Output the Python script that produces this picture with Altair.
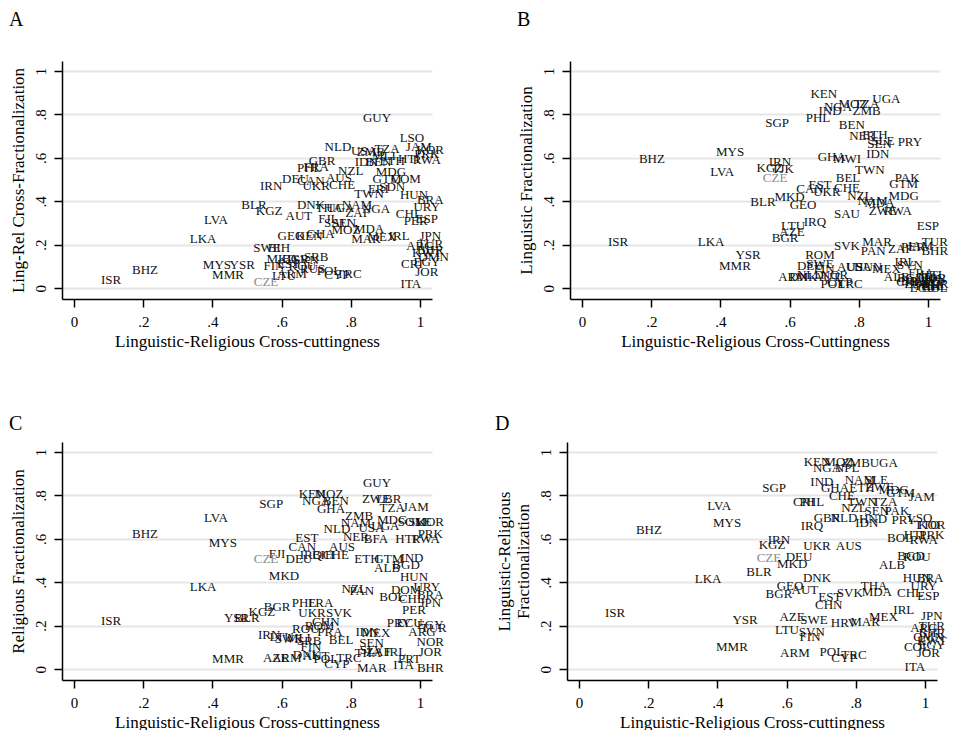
import altair as alt
import pandas as pd

FONT = "Liberation Serif"

# ---------------- Panel A: Ling-Rel Cross-Fractionalization ----------------
a_codes = ["ISR","BHZ","LVA","LKA","MYS","YSR","MMR","BLR","KGZ","AUT","IRN","DEU","CAN","UKR","CHE",
           "GBR","PHL","FRA","NZL","AUS","NLD","GUY","USA","TZA","LSO","JAM","KOR","PRK","ZMB","MLI",
           "IDN","BEN","ETH","HTI","RWA","MDG","GTM","COM","TWN","ERI","SDN","HUN","BRA","URY","CHL",
           "PER","ESP","DNK","THA","UGA","NAM","NGA","ZAF","FJI","SAU","SEN","MOZ","MDA","MAR","MEX",
           "IRL","JPN","ARG","TUR","BHR","KWT","OMN","GEO","KEN","GHA","SWE","BIH","MKD","BGR","SRB",
           "SVN","FIN","EST","ROU","RUS","POL","CYP","TRC","LTU","ARM","CZE","ITA","CRI","EGY","JOR"]
a_x = [.107,.205,.41,.373,.413,.486,.445,.52,.564,.65,.57,.64,.685,.70,.775,
       .717,.68,.70,.80,.766,.763,.876,.838,.905,.977,.997,1.03,1.02,.858,.896,
       .845,.88,.92,.968,1.02,.916,.905,.96,.853,.88,.92,.983,1.03,1.02,.968,
       .988,1.02,.685,.737,.77,.818,.873,.82,.73,.76,.78,.786,.853,.844,.89,
       .94,1.03,1.0,1.03,1.03,1.02,1.04,.627,.68,.713,.558,.592,.60,.64,.70,
       .67,.578,.62,.66,.69,.737,.76,.795,.607,.63,.555,.974,.977,1.02,1.02]
a_y = [.037,.083,.313,.226,.106,.106,.06,.383,.355,.332,.47,.502,.493,.47,.475,
       .585,.553,.56,.54,.507,.65,.783,.631,.64,.691,.65,.635,.62,.627,.61,
       .58,.58,.585,.594,.59,.534,.502,.502,.433,.456,.465,.43,.405,.373,.341,
       .31,.32,.383,.37,.37,.383,.364,.345,.32,.30,.30,.27,.272,.226,.235,
       .24,.24,.194,.205,.175,.16,.145,.24,.24,.249,.184,.184,.134,.134,.143,
       .13,.10,.11,.10,.09,.078,.06,.065,.055,.065,.028,.018,.11,.12,.074]

# ---------------- Panel B: Linguistic Fractionalization ----------------
b_codes = ["MYS","BHZ","LVA","ISR","LKA","YSR","MMR","KEN","UGA","NGA","MOZ","TZA","ZMB","IND","PHL",
           "SGP","BEN","NER","ETH","SEN","SLE","PRY","IDN","GHA","MWI","TWN","IRN","KGZ","TJK","CZE",
           "BEL","PAK","GTM","EST","CHE","CAN","UKR","NZL","MDG","NAM","MDA","ZWE","RWA","BLR","MKD",
           "GEO","SAU","IRQ","LTU","AZE","BGR","ESP","SVK","MAR","PAN","ZAF","PER","JAM","TUR","BHR",
           "ROM","IRL","SWE","DEU","FIN","AUS","USA","HUN","MEX","SVN","ARM","DNK","NLD","AUT","NOR",
           "POL","TRC","CYP","ALB","FRA","ITA","JPN","KOR","PRK","EGY","JOR","ARG","CHL","URY","BRA",
           "COL","ECU","SLV","HTI","BGD","CRI"]
b_x = [.428,.202,.405,.104,.373,.48,.442,.699,.88,.74,.783,.823,.823,.717,.682,
       .564,.78,.81,.847,.86,.87,.948,.855,.722,.766,.832,.572,.543,.58,.558,
       .769,.94,.93,.688,.766,.659,.708,.803,.93,.84,.86,.87,.913,.523,.60,
       .639,.766,.673,.61,.607,.587,1.0,.766,.853,.842,.92,.957,.977,1.02,1.02,
       .688,.934,.688,.66,.70,.775,.80,.827,.88,.948,.61,.64,.66,.708,.73,
       .725,.775,.745,.91,.98,1.0,1.02,1.02,1.0,.97,1.02,1.0,1.02,.99,.96,
       1.02,.985,1.02,1.01,.95,.94]
b_y = [.627,.594,.535,.212,.212,.152,.101,.894,.87,.834,.848,.848,.815,.815,.783,
       .76,.751,.70,.705,.664,.677,.673,.617,.604,.594,.544,.58,.553,.548,.507,
       .507,.507,.48,.475,.46,.456,.442,.424,.424,.40,.39,.355,.355,.396,.419,
       .382,.341,.304,.286,.258,.23,.286,.194,.212,.17,.18,.19,.194,.212,.17,
       .152,.12,.11,.10,.09,.097,.097,.097,.088,.105,.05,.05,.06,.05,.06,
       .018,.018,.03,.05,.07,.05,.04,.02,.01,.02,.045,.03,.01,.035,.035,
       .0,.0,.02,.06,.045,.03]

# ---------------- Panel C: Religious Fractionalization ----------------
c_codes = ["LVA","BHZ","MYS","LKA","ISR","YSR","BLR","MMR","GUY","KEN","MOZ","NGA","BEN","GHA","SGP",
           "ZWE","LBR","TZA","JAM","SLE","KOR","PRK","ZMB","MDG","SOM","NAM","USA","UGA","NLD","NER",
           "BFA","HTI","RWA","EST","CAN","AUS","FJI","CZE","DEU","IRQ","BIH","CHE","ETH","GTM","IND",
           "BGD","ALB","MKD","HUN","NZL","PAN","DOM","URY","BOL","BRA","CHL","JPN","PER","BGR","KGZ",
           "PHL","FRA","UKR","SVK","CHN","ROM","ROU","PRA","BEL","IRN","LTU","SWE","MLI","SRB","FIN",
           "IDN","MEX","PRY","ECU","ARG","EGY","TUR","NOR","SEN","SLV","THA","ZAF","IRL","JOR","ITA",
           "PRT","BHR","MAR","ARM","AZE","DNK","POL","TRC","CYP","AUT"]
c_x = [.41,.205,.43,.373,.107,.47,.50,.445,.876,.688,.737,.70,.757,.743,.57,
       .873,.91,.92,.988,1.0,1.03,1.03,.824,.92,.977,.815,.86,.90,.76,.815,
       .873,.96,1.017,.673,.66,.775,.587,.555,.65,.685,.72,.757,.847,.91,.977,
       .96,.905,.607,.983,.81,.832,.96,1.02,.92,1.03,.977,1.03,.983,.587,.543,
       .665,.713,.688,.766,.728,.71,.67,.74,.772,.564,.60,.62,.65,.68,.685,
       .847,.873,.94,.97,1.006,1.03,1.04,1.03,.86,.86,.85,.88,.93,1.03,.953,
       .97,1.03,.861,.615,.583,.673,.728,.795,.76,.70]
c_y = [.694,.622,.58,.378,.221,.235,.235,.046,.857,.806,.806,.774,.774,.737,.76,
       .783,.783,.742,.747,.677,.677,.622,.705,.687,.677,.673,.65,.66,.645,.608,
       .60,.60,.60,.604,.562,.562,.53,.507,.507,.525,.525,.525,.507,.507,.51,
       .48,.465,.43,.424,.369,.36,.364,.378,.332,.341,.323,.304,.272,.286,.263,
       .304,.304,.258,.258,.217,.20,.184,.17,.134,.157,.15,.14,.145,.13,.101,
       .171,.166,.212,.212,.17,.203,.19,.124,.12,.09,.075,.08,.078,.078,.018,
       .045,.005,.005,.05,.05,.065,.046,.05,.023,.06]

# ---------------- Panel D: Linguistic-Religious Fractionalization ----------------
d_codes = ["LVA","MYS","BHZ","LKA","ISR","YSR","MMR","KEN","MOZ","ZMB","UGA","NGA","NPL","SGP","IND",
           "GHA","NAM","SLE","ETH","ZWE","MDG","GTM","JAM","CHE","PHL","CRI","TWN","TZA","NZL","SEN",
           "PAK","IRQ","GBR","NLD","IDN","HND","PRY","LSO","TTO","KOR","PRK","BOL","HTI","RWA","IRN",
           "KGZ","UKR","AUS","CZE","DEU","MKD","BLR","ALB","ROU","BGD","DNK","HUN","BRA","URY","GEO",
           "BGR","AUT","THA","MDA","EST","SVK","CHN","CHL","ESP","IRL","MEX","MAR","HRV","AZE","SWE",
           "LTU","SVN","FIN","JPN","ARG","TUR","BHR","OMN","KWT","COL","EGY","JOR","ITA","ARM","POL",
           "CYP","TRC"]
d_x = [.405,.428,.202,.373,.104,.48,.442,.688,.751,.80,.881,.717,.775,.564,.702,
       .74,.812,.86,.818,.87,.91,.93,.991,.76,.673,.65,.818,.884,.795,.861,
       .919,.673,.717,.766,.832,.85,.939,.986,1.006,1.02,1.02,.928,.97,.997,.578,
       .558,.688,.78,.549,.636,.616,.52,.905,.977,.96,.688,.977,1.015,.997,.61,
       .578,.653,.853,.861,.725,.783,.722,.957,1.01,.939,.88,.827,.766,.616,.679,
       .601,.673,.668,1.02,.997,1.02,1.02,1.01,1.02,.977,1.02,1.01,.971,.624,.731,
       .766,.795]
d_y = [.75,.672,.64,.415,.258,.226,.101,.954,.954,.949,.949,.926,.926,.834,.862,
       .834,.871,.87,.834,.84,.825,.81,.793,.797,.77,.77,.77,.77,.742,.728,
       .728,.659,.696,.696,.673,.69,.687,.696,.664,.664,.618,.604,.618,.595,.595,
       .571,.567,.567,.512,.516,.484,.447,.48,.516,.52,.419,.419,.419,.382,.382,
       .345,.364,.382,.355,.332,.35,.295,.35,.336,.272,.24,.217,.212,.24,.226,
       .18,.17,.147,.244,.189,.2,.165,.15,.13,.101,.11,.074,.009,.074,.078,
       .051,.065]

TICKS = [0, 0.2, 0.4, 0.6, 0.8, 1]
LAB = "datum.value == 0 ? '0' : (datum.value == 1 ? '1' : '.' + format(datum.value * 10, '.0f'))"
X_TITLE_A = "Linguistic-Religious Cross-cuttingness"


def panel(codes, xs, ys, letter, ytitle, xtitle, toff):
    df = pd.DataFrame({"code": codes, "x": xs, "y": ys})
    return alt.Chart(
        df,
        title=alt.TitleParams(letter, anchor="start", frame="bounds", fontSize=20,
                              font=FONT, fontWeight="normal", color="black", offset=toff),
    ).mark_text(font=FONT, fontSize=13).encode(
        x=alt.X("x:Q",
                scale=alt.Scale(domain=[-0.035, 1.035], nice=False, zero=False),
                axis=alt.Axis(values=TICKS, labelExpr=LAB, title=xtitle, grid=False,
                              labelPadding=7, titlePadding=4)),
        y=alt.Y("y:Q",
                scale=alt.Scale(domain=[-0.05, 1.046], nice=False, zero=False),
                axis=alt.Axis(values=TICKS, labelExpr=LAB, title=ytitle, grid=True,
                              labelAngle=-90, labelAlign="center", labelBaseline="bottom",
                              labelPadding=6, titlePadding=6)),
        text="code:N",
        color=alt.condition("datum.code == 'CZE'", alt.value("#8a8a8a"), alt.value("#111111")),
    ).properties(width=370, height=238)


pA = panel(a_codes, a_x, a_y, "A", "Ling-Rel Cross-Fractionalization", X_TITLE_A, 31)
pB = panel(b_codes, b_x, b_y, "B", "Linguistic Fractionalization", "Linguistic-Religious Cross-Cuttingness", 31)
pC = panel(c_codes, c_x, c_y, "C", "Religious Fractionalization", X_TITLE_A, 8)
pD = panel(d_codes, d_x, d_y, "D", ["Linguistic-Religious", "Fractionalization"], X_TITLE_A, 8)

row1 = alt.hconcat(pA, pB, spacing=67)
row2 = alt.hconcat(pC, pD, spacing=48)

chart = alt.vconcat(row1, row2, spacing=65).configure(
    background="white", padding={"left": 0, "top": 2, "right": 0, "bottom": 0}
).configure_view(
    stroke=None
).configure_axis(
    domainColor="black", domainWidth=1.5, tickColor="black", tickWidth=1.5, tickSize=8,
    labelFont=FONT, titleFont=FONT, labelFontSize=15, titleFontSize=17,
    labelColor="black", titleColor="black", titleFontWeight="normal",
    gridColor="#e6e6e6", gridWidth=2,
)

chart.save("out.html", embed_options={"renderer": "svg", "actions": False})
